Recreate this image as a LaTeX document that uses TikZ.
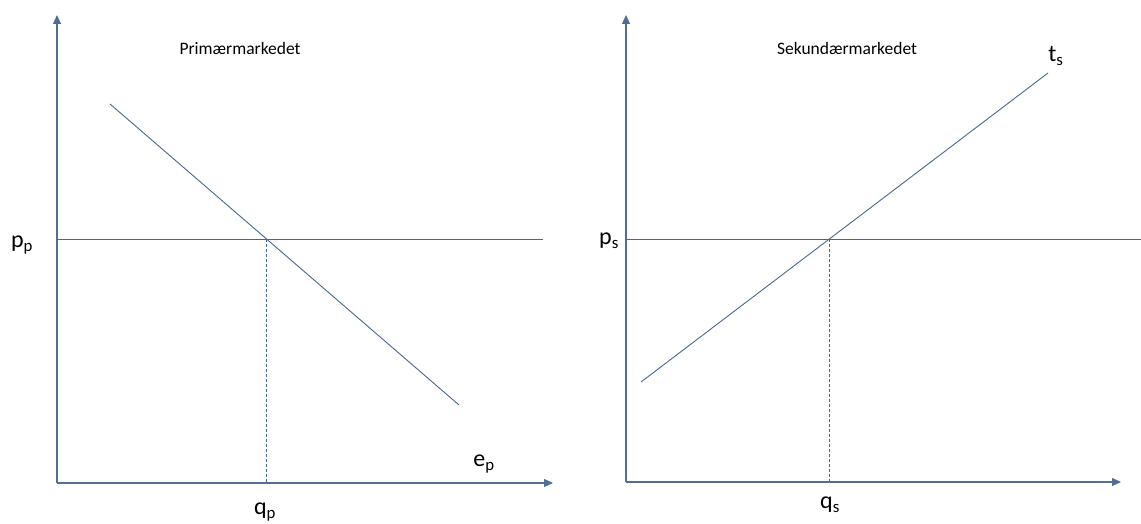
\documentclass[tikz,border=0pt]{standalone}
\usepackage{fontspec}
\setmainfont{Carlito}
\usetikzlibrary{arrows.meta}
\definecolor{ln}{RGB}{72,102,142}
\definecolor{ax}{RGB}{82,110,148}
\newcommand{\sub}[2]{#1\textsubscript{#2}}
\begin{document}
\begin{tikzpicture}[x=1pt,y=-1pt,
  axis/.style={draw=ax,line width=1.1pt,-{Triangle[length=9pt,width=8pt]}},
  curve/.style={draw=ln,line width=0.9pt},
  guide/.style={draw=ln,line width=0.8pt,dashed,dash pattern=on 3pt off 2pt},
  lbl/.style={font=\fontsize{24}{26}\selectfont,inner sep=0pt},
  ttl/.style={font=\fontsize{17.5}{19}\selectfont,inner sep=0pt}]
\useasboundingbox (0,0) rectangle (1141,524);
% left chart
\coordinate (lo) at (57,483);
\coordinate (ly) at (57,15);
\coordinate (lx) at (553,483);
\coordinate (lp1) at (57,239);
\coordinate (lp2) at (543,239);
\coordinate (d1) at (110,104);
\coordinate (d2) at (459,405);
\coordinate (le) at (266,239);
\coordinate (lq) at (266,483);
\draw[axis] (lo) -- (ly);
\draw[axis] (lo) -- (lx);
\draw[curve] (lp1) -- (lp2);
\draw[curve] (d1) -- (d2);
\draw[guide] (le) -- (lq);
\node[ttl] (t1) at (240,48) {Primærmarkedet};
\node[lbl] (pp) at (22,245) {\sub{p}{p}};
\node[lbl] (qp) at (265,512) {\sub{q}{p}};
\node[lbl] (ep) at (484,464) {\sub{e}{p}};
% right chart
\coordinate (ro) at (626,482);
\coordinate (ry) at (626,15);
\coordinate (rx) at (1121,482);
\coordinate (rp1) at (626,239);
\coordinate (rp2) at (1141,239);
\coordinate (s1) at (641,382);
\coordinate (s2) at (1048,73);
\coordinate (re) at (829,239);
\coordinate (rq) at (829,482);
\draw[axis] (ro) -- (ry);
\draw[axis] (ro) -- (rx);
\draw[curve] (rp1) -- (rp2);
\draw[curve] (s1) -- (s2);
\draw[guide] (re) -- (rq);
\node[ttl] (t2) at (847,48) {Sekundærmarkedet};
\node[lbl] (ps) at (609,241) {\sub{p}{s}};
\node[lbl] (qs) at (830,505) {\sub{q}{s}};
\node[lbl] (ts) at (1056,56) {\sub{t}{s}};
\end{tikzpicture}
\end{document}
